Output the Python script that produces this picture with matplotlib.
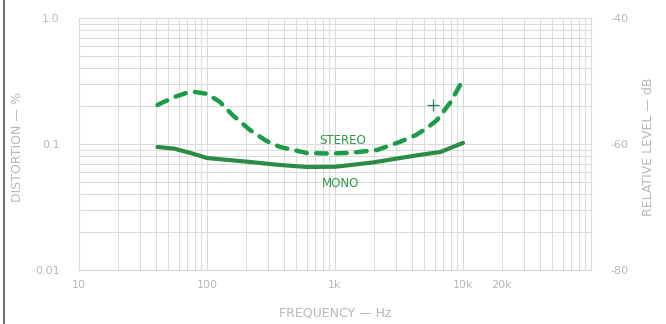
import matplotlib.pyplot as plt
import matplotlib.ticker as mticker
from matplotlib.lines import Line2D

# values
stereo_hz = [41, 55, 68, 80, 100, 126, 160, 217, 290, 372, 604, 900, 1310, 2130, 3220, 4300, 5240, 6270, 8000, 9600]
stereo_pct = [0.204, 0.235, 0.253, 0.259, 0.250, 0.216, 0.168, 0.129, 0.106, 0.0947, 0.0848, 0.084, 0.085, 0.0896, 0.104, 0.118, 0.134, 0.155, 0.215, 0.30]

mono_hz = [41, 55, 74, 100, 150, 217, 350, 604, 1000, 1310, 2000, 3220, 5000, 6660, 10000]
mono_pct = [0.0947, 0.092, 0.085, 0.0774, 0.0745, 0.072, 0.0685, 0.0657, 0.066, 0.068, 0.0715, 0.0774, 0.083, 0.0864, 0.102]

x_ticks = [10, 100, 1000, 10000, 20000]
x_labels = ['10', '100', '1k', '10k', '20k']
y_ticks = [0.01, 0.1, 1.0]
y_labels = ['0.01', '0.1', '1.0']
db_labels = ['-80', '-60', '-40']

txt = '#b8b8b8'
grid = '#dadada'

fig = plt.figure(figsize=(6.66, 3.24), dpi=100)
ax = fig.add_axes([79/666, 1-270/324, 512/666, 252/324])

ax.set_xscale('log')
ax.set_yscale('log')
ax.set_xlim(10, 100000)
ax.set_ylim(0.01, 1.0)

ax.xaxis.set_major_locator(mticker.FixedLocator(x_ticks))
ax.xaxis.set_major_formatter(mticker.FixedFormatter(x_labels))
ax.xaxis.set_minor_locator(mticker.LogLocator(base=10, subs=range(2, 10), numticks=20))
ax.xaxis.set_minor_formatter(mticker.NullFormatter())
ax.yaxis.set_major_locator(mticker.FixedLocator(y_ticks))
ax.yaxis.set_major_formatter(mticker.FixedFormatter(y_labels))
ax.yaxis.set_minor_locator(mticker.LogLocator(base=10, subs=range(2, 10), numticks=20))
ax.yaxis.set_minor_formatter(mticker.NullFormatter())

ax.grid(True, which='both', color=grid, linewidth=0.7)
for s in ax.spines.values():
    s.set_color(grid)
    s.set_linewidth(0.8)
ax.tick_params(which='both', length=0, colors=txt, labelsize=8)
ax.tick_params(axis='x', pad=7)
ax.tick_params(axis='y', pad=14)

ax.plot(mono_hz, mono_pct, color='#2b8c45', linewidth=3, solid_capstyle='round')
ax.plot(stereo_hz, stereo_pct, color='#1c9c48', linewidth=3.2, dashes=(2.4, 2.1),
        dash_capstyle='round')
ax.plot([5840], [0.204], marker='+', color='#2f7a55', markersize=9, markeredgewidth=0.9)

ax.text(1140, 0.107, 'STEREO', color='#2a9a45', fontsize=8.5, ha='center', va='center')
ax.text(1100, 0.049, 'MONO', color='#2a9a45', fontsize=8.5, ha='center', va='center')

ax2 = ax.twinx()
ax2.set_ylim(-80, -40)
ax2.set_yticks([-80, -60, -40])
ax2.set_yticklabels(db_labels)
ax2.tick_params(length=0, colors=txt, labelsize=8, pad=14)
for s in ax2.spines.values():
    s.set_visible(False)

ax.set_xlabel('FREQUENCY — Hz', color=txt, fontsize=9, labelpad=12)
fig.text(18/666, 1-147/324, 'DISTORTION — %', rotation=90, color=txt,
         fontsize=9, ha='center', va='center')
fig.text(648/666, 1-147/324, 'RELATIVE LEVEL — dB', rotation=90, color=txt,
         fontsize=9, ha='center', va='center')

fig.add_artist(Line2D([4/666, 4/666], [0, 1], color='#555555', linewidth=1.2))

fig.savefig('out.png', dpi=100)
